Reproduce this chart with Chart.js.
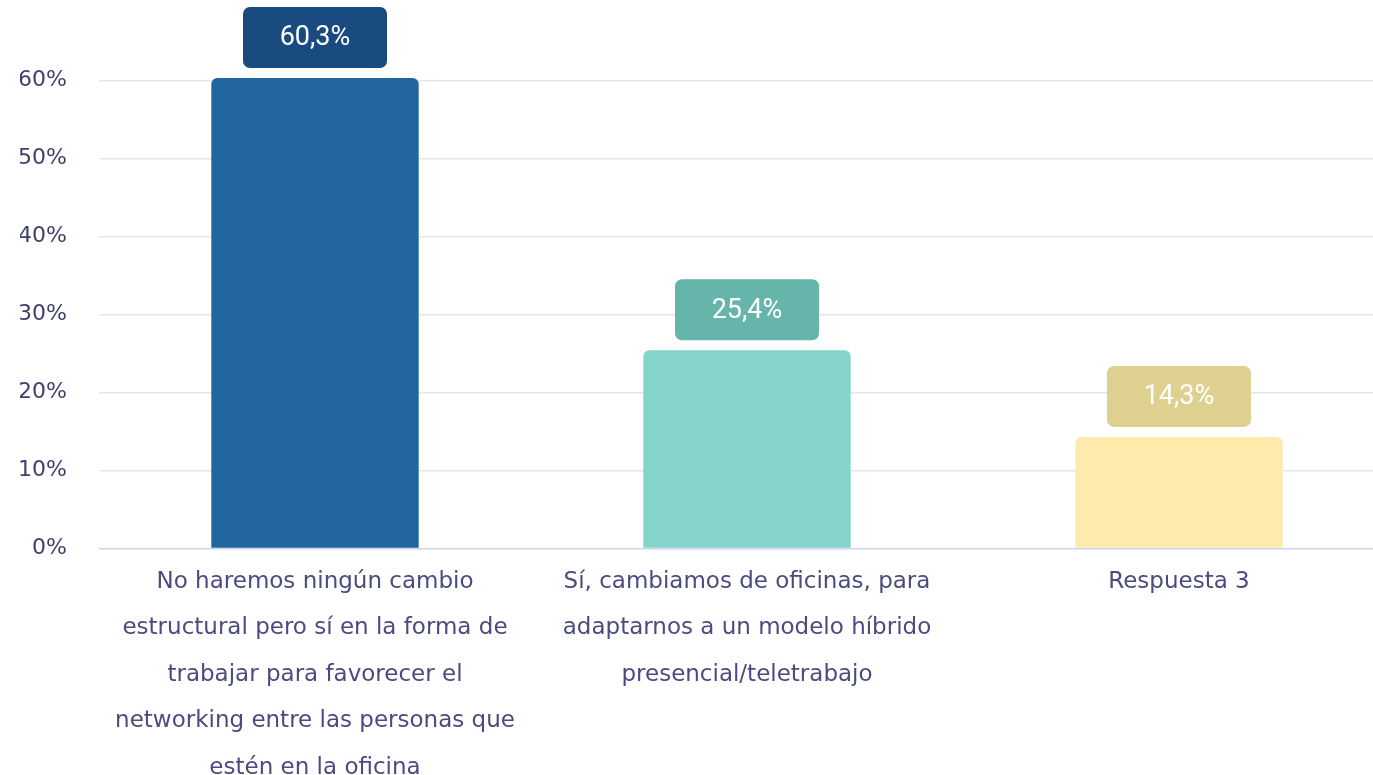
<!DOCTYPE html>
<html>
<head>
    <script src="https://cdn.jsdelivr.net/npm/chart.js"></script>
    <style>
        html, body { margin: 0; padding: 0; background: #fff; overflow: hidden; }
        #wrap { position: relative; width: 1400px; height: 801px; }
    </style>
</head>
<body>
    <div id="wrap"><canvas id="myChart"></canvas></div>

    <script>
        // Données du graphique
        var categories = [
            ['No haremos ningún cambio', 'estructural pero sí en la forma de', 'trabajar para favorecer el', 'networking entre las personas que', 'estén en la oficina'],
            ['Sí, cambiamos de oficinas, para', 'adaptarnos a un modelo híbrido', 'presencial/teletrabajo'],
            ['Respuesta 3']
        ];
        var values = [60.3, 25.4, 14.3];
        var valueLabels = ['60,3%', '25,4%', '14,3%'];
        var barColors = ['#21669e', '#85d4ca', '#feebab'];
        var boxColors = ['#1a4b80', '#65b5aa', '#ded08f'];
        var yTicks = [0, 10, 20, 30, 40, 50, 60];

        // Étiquettes de valeur dans une boîte au-dessus de chaque barre
        var valueBoxes = {
            id: 'valueBoxes',
            afterDatasetsDraw: function(chart) {
                var ctx = chart.ctx;
                var meta = chart.getDatasetMeta(0);
                ctx.save();
                meta.data.forEach(function(bar, i) {
                    var w = 144, h = 61;
                    var x = bar.x - w / 2;
                    var y = bar.y - 10 - h;
                    ctx.fillStyle = boxColors[i];
                    ctx.beginPath();
                    ctx.roundRect(x, y, w, h, 7);
                    ctx.fill();
                    ctx.fillStyle = '#ffffff';
                    ctx.font = '27px Roboto';
                    ctx.textAlign = 'center';
                    ctx.textBaseline = 'middle';
                    ctx.fillText(valueLabels[i], bar.x, y + h / 2 + 1);
                });
                ctx.restore();
            }
        };

        var ctx = document.getElementById('myChart').getContext('2d');
        var chart = new Chart(ctx, {
            type: 'bar',
            data: {
                labels: categories,
                datasets: [{
                    data: values,
                    backgroundColor: barColors,
                    borderRadius: 6,
                    categoryPercentage: 1,
                    barPercentage: 0.48
                }]
            },
            options: {
                responsive: true,
                maintainAspectRatio: false,
                animation: false,
                layout: { padding: { left: 20, right: 5, top: 78, bottom: 0 } },
                plugins: {
                    legend: { display: false },
                    tooltip: { enabled: false }
                },
                scales: {
                    x: {
                        grid: { display: false, drawTicks: false },
                        border: { display: false },
                        ticks: {
                            color: '#4b4b80',
                            font: { family: 'DejaVu Sans', size: 23, lineHeight: '46.5px' },
                            padding: 10,
                            maxRotation: 0,
                            autoSkip: false
                        }
                    },
                    y: {
                        min: 0,
                        max: Math.max.apply(null, values),
                        afterFit: function(scale) { scale.width = 79; },
                        afterBuildTicks: function(scale) {
                            scale.ticks = yTicks.map(function(v) { return { value: v }; });
                        },
                        border: { display: false },
                        grid: {
                            drawTicks: false,
                            lineWidth: 1.5,
                            color: function(c) { return c.tick && c.tick.value === 0 ? '#cdd3ef' : '#e6e6e6'; }
                        },
                        ticks: {
                            color: '#3f3f6e',
                            font: { family: 'DejaVu Sans', size: 22 },
                            padding: 32,
                            callback: function(v) { return v + '%'; }
                        }
                    }
                }
            },
            plugins: [valueBoxes]
        });
    </script>
</body>
</html>
